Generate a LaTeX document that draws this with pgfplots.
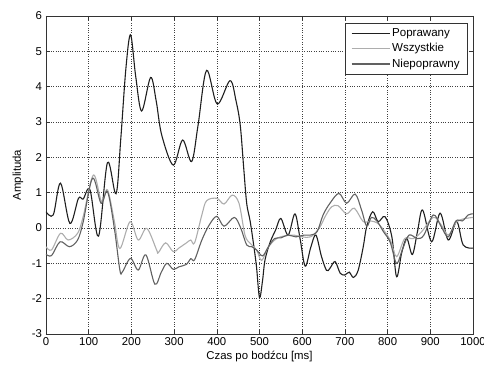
\documentclass[border=0pt]{standalone}
\usepackage{fontspec}
\setmainfont{Liberation Sans}
\usepackage{pgfplots}
\pgfplotsset{compat=1.18}
\usetikzlibrary{calc}
\definecolor{cP}{gray}{0.12}
\definecolor{cW}{gray}{0.68}
\definecolor{cN}{gray}{0.38}
\begin{document}
\fontsize{11.4}{13}\selectfont
\begin{tikzpicture}
\begin{axis}[name=ax, scale only axis, width=427bp, height=318bp,
 xmin=0, xmax=1000, ymin=-3, ymax=6,
 xtick={0,100,...,1000}, ytick={-3,-2,...,6},
 grid=major, major grid style={dotted, black!75, line width=0.6pt},
 tick align=inside, tick pos=both, major tick length=4bp,
 axis line style={line width=0.6pt, black!80},
 every tick/.style={black!80, line width=0.6pt},
 ticklabel style={font=\fontsize{11.4}{13}\selectfont},
 /pgf/number format/assume math mode=true,
 /pgf/number format/1000 sep={},
 scaled x ticks=false,
 xlabel={Czas po bodźcu [ms]}, ylabel={Amplituda},
 xlabel style={at={(axis description cs:0.5,0)}, anchor=north, inner sep=0pt, yshift=-17bp, font=\fontsize{11.4}{13}\selectfont},
 ylabel style={at={(axis description cs:-0.066,0.5)}, anchor=center, font=\fontsize{11.4}{13}\selectfont},
 legend style={at={(0.988,0.978)}, anchor=north east, draw=black!80, line width=0.6pt, fill=white,
   font=\fontsize{11.6}{13}\selectfont, row sep=1.5bp, inner xsep=6bp, inner ysep=3bp},
 legend cell align=left,
 legend image code/.code={\draw[#1] (0bp,0bp) -- (38bp,0bp);},
 every axis plot/.append style={line width=1.1pt, smooth, tension=0.55},
]
% Poprawany
\addplot[cP] coordinates {
(0,0.46)(17,0.37)(34,1.27)(56,0.13)(76,0.84)(87,0.82)(103,1.08)(123,-0.23)(144,1.85)(164,0.97)
(175,2.5)(187,4.5)(198,5.47)(210,4.3)(224,3.31)(245,4.26)(258,3.6)(271,2.63)(298,1.78)(320,2.49)
(341,1.88)(356,2.9)(376,4.46)(401,3.51)(431,4.17)(445,3.6)(455,2.9)(463,1.7)(470,0.7)(478,0.2)
(486,-0.45)(493,-1.1)(500,-1.97)(507,-1.5)(513,-0.9)(525,-0.4)(538,-0.05)(550,0.27)(567,-0.2)(583,0.4)
(595,-0.3)(607,-1.08)(620,-0.55)(632,-0.2)(645,-0.8)(657,-1.2)(665,-1.14)(677,-0.95)(689,-1.28)(700,-1.33)
(710,-1.25)(720,-1.4)(731,-1.2)(743,-0.53)(751,0.04)(765,0.46)(778,0.18)(794,0.32)(810,-0.25)(821,-1.38)
(833,-0.7)(845,-0.3)(858,-0.75)(870,-0.1)(882,0.51)(903,-0.39)(923,0.42)(942,-0.34)(962,0.18)(977,-0.48)(1000,-0.57)
};
% Wszystkie
\addplot[cW] coordinates {
(0,-0.53)(13,-0.62)(34,-0.15)(52,-0.34)(74,-0.15)(87,0.32)(111,1.5)(130,0.75)(144,1.08)(160,0.2)
(173,-0.58)(197,0.18)(216,-0.34)(236,-0.01)(259,-0.62)(263,-0.7)(280,-0.42)(298,-0.67)(311,-0.57)(329,-0.42)
(339,-0.34)(348,-0.42)(365,0.37)(376,0.77)(400,0.84)(417,0.68)(436,0.93)(452,0.7)(466,-0.2)(478,-0.43)
(493,-0.62)(505,-0.92)(520,-0.55)(540,-0.3)(560,-0.22)(580,-0.2)(600,-0.25)(620,-0.25)(640,0.0)(655,0.35)
(669,0.6)(684,0.63)(704,0.4)(722,0.56)(743,0.18)(760,0.2)(780,0.1)(806,-0.34)(821,-0.81)(840,-0.3)
(860,-0.3)(880,-0.1)(907,0.3)(925,0.1)(942,-0.2)(960,0.15)(975,0.25)(1000,0.3)
};
% Niepoprawny
\addplot[cN] coordinates {
(0,-0.74)(13,-0.78)(33,-0.39)(55,-0.53)(74,-0.34)(87,0.17)(109,1.41)(129,0.7)(144,1.03)(160,0.0)
(173,-1.19)(179,-1.24)(198,-0.86)(216,-1.19)(234,-0.76)(255,-1.59)(270,-1.25)(283,-1.0)(298,-1.17)(311,-1.1)
(329,-1.03)(339,-0.87)(348,-0.9)(365,-0.34)(382,0.08)(400,0.33)(417,0.05)(441,0.3)(456,0.0)(470,-0.48)
(482,-0.53)(493,-0.62)(507,-0.79)(520,-0.55)(535,-0.3)(550,-0.28)(567,-0.2)(585,-0.25)(605,-0.2)(620,-0.2)
(635,-0.1)(649,0.37)(665,0.7)(686,0.98)(704,0.7)(724,0.96)(739,0.51)(751,0.05)(762,0.3)(775,0.2)
(790,-0.1)(806,-0.4)(821,-1.0)(835,-0.6)(850,-0.2)(870,-0.3)(885,-0.2)(907,0.37)(925,0.05)(942,-0.25)
(960,0.2)(975,0.2)(989,0.37)(1000,0.4)
};
\legend{Poprawany,Wszystkie,Niepoprawny}
\end{axis}
\pgfresetboundingbox
\path[use as bounding box] ($(ax.south west)+(-46bp,-31bp)$) rectangle ($(ax.north east)+(11bp,16bp)$);
\end{tikzpicture}
\end{document}
